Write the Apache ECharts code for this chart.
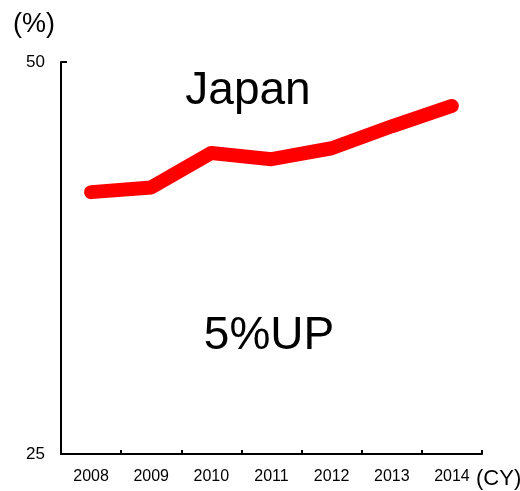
<!DOCTYPE html>
<html>
<head>
<meta charset="utf-8">
<script src="https://cdn.jsdelivr.net/npm/echarts@6/dist/echarts.min.js"></script>
<style>
  html, body { margin: 0; padding: 0; background: #fff; }
  #chart { width: 520px; height: 491px; }
</style>
</head>
<body>
<div id="chart"></div>
<script>
// Calendar years on the x axis
const years = ['2008', '2009', '2010', '2011', '2012', '2013', '2014'];
// Share (%) for Japan by year
const japanShare = [41.7, 42.0, 44.2, 43.8, 44.5, 45.9, 47.2];
// Value axis range
const yMin = 25;
const yMax = 50;

const chart = echarts.init(document.getElementById('chart'));
const sans = '"Liberation Sans", Arial, sans-serif';

chart.setOption({
  animation: false,
  backgroundColor: '#ffffff',
  grid: { left: 61, right: 38, top: 62, bottom: 37 },
  xAxis: {
    type: 'category',
    data: years,
    boundaryGap: true,
    axisLine: { lineStyle: { color: '#000', width: 2 } },
    axisTick: { show: true, inside: true, length: 4, lineStyle: { color: '#000', width: 2 } },
    axisLabel: { color: '#000', fontSize: 16, fontFamily: sans, margin: 15 }
  },
  yAxis: {
    type: 'value',
    min: yMin,
    max: yMax,
    interval: yMax - yMin,
    splitLine: { show: false },
    axisLine: { show: true, lineStyle: { color: '#000', width: 2 } },
    axisTick: { show: true, inside: true, length: 6, lineStyle: { color: '#000', width: 2 } },
    axisLabel: { color: '#000', fontSize: 17, fontFamily: sans, margin: 16 }
  },
  series: [{
    type: 'line',
    data: japanShare,
    symbol: 'none',
    lineStyle: { color: '#ff0000', width: 14, cap: 'round', join: 'round' }
  }],
  graphic: [
    { type: 'text', x: 248, y: 91, style: { text: 'Japan', fill: '#000', font: '46px ' + sans, align: 'center', verticalAlign: 'middle' } },
    { type: 'text', x: 269, y: 336, style: { text: '5%UP', fill: '#000', font: '46px ' + sans, align: 'center', verticalAlign: 'middle' } },
    { type: 'text', x: 34, y: 25, style: { text: '(%)', fill: '#000', font: '27px ' + sans, align: 'center', verticalAlign: 'middle' } },
    { type: 'text', x: 476, y: 479, style: { text: '(CY)', fill: '#000', font: '22px ' + sans, align: 'left', verticalAlign: 'middle' } }
  ]
});
</script>
</body>
</html>
